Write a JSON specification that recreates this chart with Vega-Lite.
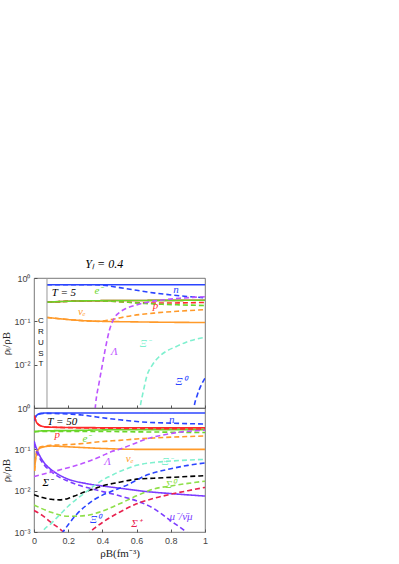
{
"$schema": "https://vega.github.io/schema/vega-lite/v6.json",
"padding": {"left": 0, "top": 257, "right": 5, "bottom": 0},
"title": {"text": "Yₗ = 0.4", "font": "Liberation Serif", "fontStyle": "italic", "fontSize": 12, "fontWeight": "normal", "anchor": "middle", "offset": 3, "color": "#000"},
"config": {
  "view": {"stroke": "#555", "strokeWidth": 0.8},
  "axis": {"grid": false, "domain": false, "labelFont": "Liberation Sans", "labelFontSize": 9, "labelColor": "#444", "tickColor": "#555", "tickSize": -3, "labelPadding": 7, "labelOverlap": false, "minExtent": 0, "titlePadding": 2, "titleFont": "Liberation Serif", "titleFontSize": 11, "titleFontWeight": "normal", "titleColor": "#222"},
  "axisX": {"labelOverlap": false, "labelFlush": false}
},
"datasets": {
"t5": [
{"species":"n","matter":"N","rho":0.076,"frac":0.7},{"species":"n","matter":"N","rho":0.5,"frac":0.7},{"species":"n","matter":"N","rho":1.0,"frac":0.7},
{"species":"p","matter":"N","rho":0.076,"frac":0.277},{"species":"p","matter":"N","rho":0.2,"frac":0.29},{"species":"p","matter":"N","rho":0.3,"frac":0.297},{"species":"p","matter":"N","rho":0.4,"frac":0.3},{"species":"p","matter":"N","rho":0.6,"frac":0.303},{"species":"p","matter":"N","rho":1.0,"frac":0.306},
{"species":"e","matter":"N","rho":0.076,"frac":0.277},{"species":"e","matter":"N","rho":0.2,"frac":0.29},{"species":"e","matter":"N","rho":0.3,"frac":0.297},{"species":"e","matter":"N","rho":0.4,"frac":0.3},{"species":"e","matter":"N","rho":0.6,"frac":0.303},{"species":"e","matter":"N","rho":1.0,"frac":0.306},
{"species":"nu","matter":"N","rho":0.076,"frac":0.123},{"species":"nu","matter":"N","rho":0.2,"frac":0.11},{"species":"nu","matter":"N","rho":0.3,"frac":0.103},{"species":"nu","matter":"N","rho":0.4,"frac":0.1},{"species":"nu","matter":"N","rho":0.6,"frac":0.097},{"species":"nu","matter":"N","rho":0.8,"frac":0.095},{"species":"nu","matter":"N","rho":1.0,"frac":0.094},
{"species":"n","matter":"NY","rho":0.076,"frac":0.7},{"species":"n","matter":"NY","rho":0.35,"frac":0.7},{"species":"n","matter":"NY","rho":0.42,"frac":0.67},{"species":"n","matter":"NY","rho":0.5,"frac":0.6},{"species":"n","matter":"NY","rho":0.6,"frac":0.52},{"species":"n","matter":"NY","rho":0.67,"frac":0.47},{"species":"n","matter":"NY","rho":0.77,"frac":0.42},{"species":"n","matter":"NY","rho":0.88,"frac":0.38},{"species":"n","matter":"NY","rho":1.0,"frac":0.35},
{"species":"p","matter":"NY","rho":0.076,"frac":0.277},{"species":"p","matter":"NY","rho":0.2,"frac":0.29},{"species":"p","matter":"NY","rho":0.36,"frac":0.299},{"species":"p","matter":"NY","rho":0.45,"frac":0.29},{"species":"p","matter":"NY","rho":0.55,"frac":0.275},{"species":"p","matter":"NY","rho":0.65,"frac":0.266},{"species":"p","matter":"NY","rho":0.75,"frac":0.264},{"species":"p","matter":"NY","rho":0.85,"frac":0.266},{"species":"p","matter":"NY","rho":1.0,"frac":0.273},
{"species":"e","matter":"NY","rho":0.076,"frac":0.277},{"species":"e","matter":"NY","rho":0.2,"frac":0.29},{"species":"e","matter":"NY","rho":0.36,"frac":0.299},{"species":"e","matter":"NY","rho":0.45,"frac":0.29},{"species":"e","matter":"NY","rho":0.55,"frac":0.275},{"species":"e","matter":"NY","rho":0.65,"frac":0.258},{"species":"e","matter":"NY","rho":0.75,"frac":0.247},{"species":"e","matter":"NY","rho":0.85,"frac":0.24},{"species":"e","matter":"NY","rho":1.0,"frac":0.232},
{"species":"nu","matter":"NY","rho":0.076,"frac":0.123},{"species":"nu","matter":"NY","rho":0.2,"frac":0.11},{"species":"nu","matter":"NY","rho":0.3,"frac":0.103},{"species":"nu","matter":"NY","rho":0.38,"frac":0.1},{"species":"nu","matter":"NY","rho":0.45,"frac":0.11},{"species":"nu","matter":"NY","rho":0.57,"frac":0.135},{"species":"nu","matter":"NY","rho":0.7,"frac":0.155},{"species":"nu","matter":"NY","rho":0.85,"frac":0.172},{"species":"nu","matter":"NY","rho":1.0,"frac":0.186},
{"species":"Lambda","matter":"NY","rho":0.35,"frac":0.0004},{"species":"Lambda","matter":"NY","rho":0.36,"frac":0.0012},{"species":"Lambda","matter":"NY","rho":0.38,"frac":0.0037},{"species":"Lambda","matter":"NY","rho":0.4,"frac":0.01},{"species":"Lambda","matter":"NY","rho":0.415,"frac":0.021},{"species":"Lambda","matter":"NY","rho":0.44,"frac":0.06},{"species":"Lambda","matter":"NY","rho":0.47,"frac":0.12},{"species":"Lambda","matter":"NY","rho":0.5,"frac":0.16},{"species":"Lambda","matter":"NY","rho":0.54,"frac":0.2},{"species":"Lambda","matter":"NY","rho":0.6,"frac":0.24},{"species":"Lambda","matter":"NY","rho":0.67,"frac":0.28},{"species":"Lambda","matter":"NY","rho":0.75,"frac":0.31},{"species":"Lambda","matter":"NY","rho":0.85,"frac":0.34},{"species":"Lambda","matter":"NY","rho":1.0,"frac":0.37},
{"species":"XiM","matter":"NY","rho":0.61,"frac":0.0005},{"species":"XiM","matter":"NY","rho":0.62,"frac":0.001},{"species":"XiM","matter":"NY","rho":0.64,"frac":0.0025},{"species":"XiM","matter":"NY","rho":0.66,"frac":0.0055},{"species":"XiM","matter":"NY","rho":0.69,"frac":0.0095},{"species":"XiM","matter":"NY","rho":0.73,"frac":0.015},{"species":"XiM","matter":"NY","rho":0.77,"frac":0.02},{"species":"XiM","matter":"NY","rho":0.83,"frac":0.026},{"species":"XiM","matter":"NY","rho":0.89,"frac":0.033},{"species":"XiM","matter":"NY","rho":0.95,"frac":0.039},{"species":"XiM","matter":"NY","rho":1.0,"frac":0.043},
{"species":"Xi0","matter":"NY","rho":0.925,"frac":0.0005},{"species":"Xi0","matter":"NY","rho":0.935,"frac":0.001},{"species":"Xi0","matter":"NY","rho":0.955,"frac":0.002},{"species":"Xi0","matter":"NY","rho":0.975,"frac":0.0032},{"species":"Xi0","matter":"NY","rho":1.0,"frac":0.0049}
],
"t50": [
{"species":"n","matter":"N","rho":0.002,"frac":0.5},{"species":"n","matter":"N","rho":0.01,"frac":0.62},{"species":"n","matter":"N","rho":0.02,"frac":0.69},{"species":"n","matter":"N","rho":0.04,"frac":0.74},{"species":"n","matter":"N","rho":0.08,"frac":0.76},{"species":"n","matter":"N","rho":0.3,"frac":0.76},{"species":"n","matter":"N","rho":1.0,"frac":0.76},
{"species":"p","matter":"N","rho":0.002,"frac":0.65},{"species":"p","matter":"N","rho":0.01,"frac":0.5},{"species":"p","matter":"N","rho":0.02,"frac":0.42},{"species":"p","matter":"N","rho":0.04,"frac":0.37},{"species":"p","matter":"N","rho":0.08,"frac":0.345},{"species":"p","matter":"N","rho":0.3,"frac":0.335},{"species":"p","matter":"N","rho":1.0,"frac":0.33},
{"species":"e","matter":"N","rho":0.002,"frac":0.27},{"species":"e","matter":"N","rho":0.05,"frac":0.28},{"species":"e","matter":"N","rho":0.2,"frac":0.285},{"species":"e","matter":"N","rho":0.5,"frac":0.298},{"species":"e","matter":"N","rho":1.0,"frac":0.3},
{"species":"nu","matter":"N","rho":0.003,"frac":0.03},{"species":"nu","matter":"N","rho":0.01,"frac":0.06},{"species":"nu","matter":"N","rho":0.02,"frac":0.09},{"species":"nu","matter":"N","rho":0.04,"frac":0.11},{"species":"nu","matter":"N","rho":0.1,"frac":0.12},{"species":"nu","matter":"N","rho":0.2,"frac":0.115},{"species":"nu","matter":"N","rho":0.4,"frac":0.105},{"species":"nu","matter":"N","rho":0.6,"frac":0.1},{"species":"nu","matter":"N","rho":1.0,"frac":0.1},
{"species":"mu","matter":"N","rho":0.0,"frac":0.16},{"species":"mu","matter":"N","rho":0.01,"frac":0.12},{"species":"mu","matter":"N","rho":0.03,"frac":0.075},{"species":"mu","matter":"N","rho":0.06,"frac":0.047},{"species":"mu","matter":"N","rho":0.09,"frac":0.035},{"species":"mu","matter":"N","rho":0.14,"frac":0.025},{"species":"mu","matter":"N","rho":0.2,"frac":0.019},{"species":"mu","matter":"N","rho":0.3,"frac":0.015},{"species":"mu","matter":"N","rho":0.4,"frac":0.013},{"species":"mu","matter":"N","rho":0.5,"frac":0.0115},{"species":"mu","matter":"N","rho":0.66,"frac":0.0095},{"species":"mu","matter":"N","rho":0.8,"frac":0.0085},{"species":"mu","matter":"N","rho":1.0,"frac":0.0074},
{"species":"n","matter":"NY","rho":0.002,"frac":0.5},{"species":"n","matter":"NY","rho":0.01,"frac":0.62},{"species":"n","matter":"NY","rho":0.02,"frac":0.69},{"species":"n","matter":"NY","rho":0.04,"frac":0.73},{"species":"n","matter":"NY","rho":0.08,"frac":0.74},{"species":"n","matter":"NY","rho":0.15,"frac":0.73},{"species":"n","matter":"NY","rho":0.22,"frac":0.71},{"species":"n","matter":"NY","rho":0.28,"frac":0.68},{"species":"n","matter":"NY","rho":0.34,"frac":0.63},{"species":"n","matter":"NY","rho":0.4,"frac":0.58},{"species":"n","matter":"NY","rho":0.5,"frac":0.52},{"species":"n","matter":"NY","rho":0.63,"frac":0.46},{"species":"n","matter":"NY","rho":0.8,"frac":0.43},{"species":"n","matter":"NY","rho":1.0,"frac":0.41},
{"species":"p","matter":"NY","rho":0.002,"frac":0.65},{"species":"p","matter":"NY","rho":0.01,"frac":0.5},{"species":"p","matter":"NY","rho":0.02,"frac":0.42},{"species":"p","matter":"NY","rho":0.04,"frac":0.37},{"species":"p","matter":"NY","rho":0.08,"frac":0.345},{"species":"p","matter":"NY","rho":0.3,"frac":0.33},{"species":"p","matter":"NY","rho":0.6,"frac":0.32},{"species":"p","matter":"NY","rho":1.0,"frac":0.31},
{"species":"e","matter":"NY","rho":0.002,"frac":0.265},{"species":"e","matter":"NY","rho":0.05,"frac":0.27},{"species":"e","matter":"NY","rho":0.2,"frac":0.27},{"species":"e","matter":"NY","rho":0.4,"frac":0.27},{"species":"e","matter":"NY","rho":0.6,"frac":0.265},{"species":"e","matter":"NY","rho":0.8,"frac":0.26},{"species":"e","matter":"NY","rho":1.0,"frac":0.255},
{"species":"nu","matter":"NY","rho":0.003,"frac":0.03},{"species":"nu","matter":"NY","rho":0.01,"frac":0.065},{"species":"nu","matter":"NY","rho":0.02,"frac":0.1},{"species":"nu","matter":"NY","rho":0.04,"frac":0.115},{"species":"nu","matter":"NY","rho":0.1,"frac":0.125},{"species":"nu","matter":"NY","rho":0.2,"frac":0.13},{"species":"nu","matter":"NY","rho":0.3,"frac":0.14},{"species":"nu","matter":"NY","rho":0.4,"frac":0.155},{"species":"nu","matter":"NY","rho":0.5,"frac":0.165},{"species":"nu","matter":"NY","rho":0.6,"frac":0.178},{"species":"nu","matter":"NY","rho":0.7,"frac":0.188},{"species":"nu","matter":"NY","rho":0.8,"frac":0.197},{"species":"nu","matter":"NY","rho":0.9,"frac":0.204},{"species":"nu","matter":"NY","rho":1.0,"frac":0.21},
{"species":"mu","matter":"NY","rho":0.0,"frac":0.14},{"species":"mu","matter":"NY","rho":0.01,"frac":0.1},{"species":"mu","matter":"NY","rho":0.03,"frac":0.065},{"species":"mu","matter":"NY","rho":0.06,"frac":0.042},{"species":"mu","matter":"NY","rho":0.1,"frac":0.029},{"species":"mu","matter":"NY","rho":0.15,"frac":0.021},{"species":"mu","matter":"NY","rho":0.2,"frac":0.017},{"species":"mu","matter":"NY","rho":0.25,"frac":0.014},{"species":"mu","matter":"NY","rho":0.3,"frac":0.0122},{"species":"mu","matter":"NY","rho":0.39,"frac":0.0098},{"species":"mu","matter":"NY","rho":0.5,"frac":0.0075},{"species":"mu","matter":"NY","rho":0.63,"frac":0.0051},{"species":"mu","matter":"NY","rho":0.7,"frac":0.0037},{"species":"mu","matter":"NY","rho":0.79,"frac":0.002},{"species":"mu","matter":"NY","rho":0.89,"frac":0.001},{"species":"mu","matter":"NY","rho":1.0,"frac":0.0004},
{"species":"Lambda","matter":"NY","rho":0.0,"frac":0.022},{"species":"Lambda","matter":"NY","rho":0.1,"frac":0.028},{"species":"Lambda","matter":"NY","rho":0.2,"frac":0.036},{"species":"Lambda","matter":"NY","rho":0.3,"frac":0.048},{"species":"Lambda","matter":"NY","rho":0.4,"frac":0.07},{"species":"Lambda","matter":"NY","rho":0.45,"frac":0.087},{"species":"Lambda","matter":"NY","rho":0.5,"frac":0.1},{"species":"Lambda","matter":"NY","rho":0.6,"frac":0.145},{"species":"Lambda","matter":"NY","rho":0.66,"frac":0.18},{"species":"Lambda","matter":"NY","rho":0.75,"frac":0.22},{"species":"Lambda","matter":"NY","rho":0.85,"frac":0.26},{"species":"Lambda","matter":"NY","rho":1.0,"frac":0.29},
{"species":"SigmaM","matter":"NY","rho":0.0,"frac":0.008},{"species":"SigmaM","matter":"NY","rho":0.05,"frac":0.0068},{"species":"SigmaM","matter":"NY","rho":0.1,"frac":0.0062},{"species":"SigmaM","matter":"NY","rho":0.15,"frac":0.006},{"species":"SigmaM","matter":"NY","rho":0.2,"frac":0.0065},{"species":"SigmaM","matter":"NY","rho":0.25,"frac":0.0078},{"species":"SigmaM","matter":"NY","rho":0.3,"frac":0.0095},{"species":"SigmaM","matter":"NY","rho":0.35,"frac":0.011},{"species":"SigmaM","matter":"NY","rho":0.4,"frac":0.013},{"species":"SigmaM","matter":"NY","rho":0.5,"frac":0.016},{"species":"SigmaM","matter":"NY","rho":0.6,"frac":0.019},{"species":"SigmaM","matter":"NY","rho":0.7,"frac":0.02},{"species":"SigmaM","matter":"NY","rho":0.8,"frac":0.021},{"species":"SigmaM","matter":"NY","rho":0.9,"frac":0.022},{"species":"SigmaM","matter":"NY","rho":1.0,"frac":0.023},
{"species":"Sigma0","matter":"NY","rho":0.0,"frac":0.0045},{"species":"Sigma0","matter":"NY","rho":0.1,"frac":0.003},{"species":"Sigma0","matter":"NY","rho":0.2,"frac":0.0024},{"species":"Sigma0","matter":"NY","rho":0.3,"frac":0.0025},{"species":"Sigma0","matter":"NY","rho":0.4,"frac":0.0032},{"species":"Sigma0","matter":"NY","rho":0.5,"frac":0.0048},{"species":"Sigma0","matter":"NY","rho":0.6,"frac":0.0075},{"species":"Sigma0","matter":"NY","rho":0.7,"frac":0.011},{"species":"Sigma0","matter":"NY","rho":0.8,"frac":0.013},{"species":"Sigma0","matter":"NY","rho":0.9,"frac":0.015},{"species":"Sigma0","matter":"NY","rho":1.0,"frac":0.017},
{"species":"SigmaP","matter":"NY","rho":0.0,"frac":0.0033},{"species":"SigmaP","matter":"NY","rho":0.05,"frac":0.0025},{"species":"SigmaP","matter":"NY","rho":0.1,"frac":0.0017},{"species":"SigmaP","matter":"NY","rho":0.15,"frac":0.0012},{"species":"SigmaP","matter":"NY","rho":0.2,"frac":0.0008},{"species":"SigmaP","matter":"NY","rho":0.25,"frac":0.0006},{"species":"SigmaP","matter":"NY","rho":0.3,"frac":0.0008},{"species":"SigmaP","matter":"NY","rho":0.35,"frac":0.0012},{"species":"SigmaP","matter":"NY","rho":0.4,"frac":0.0017},{"species":"SigmaP","matter":"NY","rho":0.5,"frac":0.003},{"species":"SigmaP","matter":"NY","rho":0.6,"frac":0.0048},{"species":"SigmaP","matter":"NY","rho":0.7,"frac":0.0065},{"species":"SigmaP","matter":"NY","rho":0.8,"frac":0.0082},{"species":"SigmaP","matter":"NY","rho":0.9,"frac":0.01},{"species":"SigmaP","matter":"NY","rho":1.0,"frac":0.012},
{"species":"XiM","matter":"NY","rho":0.02,"frac":0.0005},{"species":"XiM","matter":"NY","rho":0.05,"frac":0.001},{"species":"XiM","matter":"NY","rho":0.1,"frac":0.0016},{"species":"XiM","matter":"NY","rho":0.15,"frac":0.0026},{"species":"XiM","matter":"NY","rho":0.2,"frac":0.0042},{"species":"XiM","matter":"NY","rho":0.25,"frac":0.0063},{"species":"XiM","matter":"NY","rho":0.3,"frac":0.009},{"species":"XiM","matter":"NY","rho":0.35,"frac":0.013},{"species":"XiM","matter":"NY","rho":0.4,"frac":0.018},{"species":"XiM","matter":"NY","rho":0.45,"frac":0.023},{"species":"XiM","matter":"NY","rho":0.5,"frac":0.029},{"species":"XiM","matter":"NY","rho":0.55,"frac":0.035},{"species":"XiM","matter":"NY","rho":0.6,"frac":0.041},{"species":"XiM","matter":"NY","rho":0.7,"frac":0.048},{"species":"XiM","matter":"NY","rho":0.8,"frac":0.052},{"species":"XiM","matter":"NY","rho":0.9,"frac":0.055},{"species":"XiM","matter":"NY","rho":1.0,"frac":0.057},
{"species":"Xi0","matter":"NY","rho":0.14,"frac":0.0006},{"species":"Xi0","matter":"NY","rho":0.17,"frac":0.001},{"species":"Xi0","matter":"NY","rho":0.2,"frac":0.0015},{"species":"Xi0","matter":"NY","rho":0.25,"frac":0.0027},{"species":"Xi0","matter":"NY","rho":0.3,"frac":0.0042},{"species":"Xi0","matter":"NY","rho":0.35,"frac":0.006},{"species":"Xi0","matter":"NY","rho":0.4,"frac":0.0078},{"species":"Xi0","matter":"NY","rho":0.45,"frac":0.0095},{"species":"Xi0","matter":"NY","rho":0.5,"frac":0.0115},{"species":"Xi0","matter":"NY","rho":0.55,"frac":0.014},{"species":"Xi0","matter":"NY","rho":0.6,"frac":0.018},{"species":"Xi0","matter":"NY","rho":0.65,"frac":0.023},{"species":"Xi0","matter":"NY","rho":0.7,"frac":0.027},{"species":"Xi0","matter":"NY","rho":0.8,"frac":0.034},{"species":"Xi0","matter":"NY","rho":0.9,"frac":0.041},{"species":"Xi0","matter":"NY","rho":1.0,"frac":0.047}
],
"crust": [{"rho": 0.076}],
"crustlab": [{"label":"C","rho":0.04,"frac":0.104},{"label":"R","rho":0.04,"frac":0.058},{"label":"U","rho":0.04,"frac":0.032},{"label":"S","rho":0.04,"frac":0.018},{"label":"T","rho":0.04,"frac":0.0102}],
"t5lab": [
{"label":"T = 5","species":"other","rho":0.175,"frac":0.46},
{"label":"e⁻","species":"e","rho":0.38,"frac":0.5},
{"label":"n","species":"n","rho":0.83,"frac":0.53},
{"label":"p","species":"p","rho":0.71,"frac":0.22},
{"label":"νₑ","species":"nu","rho":0.28,"frac":0.16},
{"label":"Λ","species":"Lambda","rho":0.47,"frac":0.0195},
{"label":"Ξ⁻","species":"XiM","rho":0.65,"frac":0.03},
{"label":"Ξ⁰","species":"Xi0","rho":0.86,"frac":0.004}
],
"t50lab": [
{"label":"T = 50","species":"other","rho":0.165,"frac":0.46},
{"label":"n","species":"n","rho":0.805,"frac":0.5},
{"label":"p","species":"p","rho":0.136,"frac":0.22},
{"label":"e⁻","species":"e","rho":0.31,"frac":0.18},
{"label":"Λ","species":"Lambda","rho":0.43,"frac":0.05},
{"label":"νₑ","species":"nu","rho":0.56,"frac":0.06},
{"label":"Ξ⁻","species":"XiM","rho":0.78,"frac":0.05},
{"label":"Σ⁻","species":"SigmaM","rho":0.08,"frac":0.015},
{"label":"Σ⁰","species":"Sigma0","rho":0.8,"frac":0.014},
{"label":"Ξ⁰","species":"Xi0","rho":0.36,"frac":0.0019},
{"label":"Σ⁺","species":"SigmaP","rho":0.6,"frac":0.0016},
{"label":"μ⁻/ν̄μ","species":"mu","rho":0.86,"frac":0.0023}
]
},
"spacing": 0,
"bounds": "flush",
"vconcat": [
{
"width": 171, "height": 130,
"encoding": {
  "x": {"field": "rho", "type": "quantitative", "scale": {"domain": [0, 1]}, "axis": {"title": null, "labels": false, "labelPadding": 0, "values": [0, 0.2, 0.4, 0.6, 0.8, 1]}},
  "y": {"field": "frac", "type": "quantitative", "scale": {"type": "log", "domain": [0.001, 1]}, "axis": {"title": "ρₗ/ρB", "values": [1, 0.1, 0.01], "labelExpr": "datum.value >= 0.99 ? '10⁰' : datum.value >= 0.099 ? '10⁻¹' : datum.value >= 0.0099 ? '10⁻²' : '10⁻³'"}}
},
"layer": [
{"data": {"name": "t5"}, "mark": {"type": "line", "clip": true, "strokeWidth": 1.6, "interpolate": "monotone"},
 "encoding": {
  "color": {"field": "species", "type": "nominal", "legend": null, "scale": {"domain": ["n","p","e","nu","mu","Lambda","SigmaM","Sigma0","SigmaP","XiM","Xi0","other"], "range": ["#2a44ff","#ff2a2a","#6ad62a","#ff9a2a","#7b3cff","#bd55ff","#000000","#8fdf4a","#e8224f","#7ff0cf","#2a44ff","#000000"]}},
  "strokeDash": {"field": "matter", "type": "nominal", "legend": null, "scale": {"domain": ["N", "NY"], "range": [[1, 0], [5, 3]]}}
 }},
{"data": {"name": "crust"}, "mark": {"type": "rule", "color": "#999", "strokeWidth": 1},
 "encoding": {"y": null}},
{"data": {"name": "crustlab"}, "mark": {"type": "text", "font": "Liberation Sans", "fontSize": 8, "color": "#111"},
 "encoding": {"text": {"field": "label"}}},
{"data": {"name": "t5lab"}, "mark": {"type": "text", "font": "Liberation Serif", "fontStyle": "italic", "fontSize": 11},
 "encoding": {"text": {"field": "label"}, "color": {"field": "species", "type": "nominal", "legend": null}}}
]
},
{
"width": 171, "height": 124,
"encoding": {
  "x": {"field": "rho", "type": "quantitative", "scale": {"domain": [0, 1]}, "axis": {"title": "ρB(fm⁻³)", "values": [0, 0.2, 0.4, 0.6, 0.8, 1], "format": "~g", "labelOverlap": false, "labelFlush": false}},
  "y": {"field": "frac", "type": "quantitative", "scale": {"type": "log", "domain": [0.001, 1]}, "axis": {"title": "ρₗ/ρB", "values": [1, 0.1, 0.01, 0.001], "labelExpr": "datum.value >= 0.99 ? '10⁰' : datum.value >= 0.099 ? '10⁻¹' : datum.value >= 0.0099 ? '10⁻²' : '10⁻³'"}}
},
"layer": [
{"data": {"name": "t50"}, "mark": {"type": "line", "clip": true, "strokeWidth": 1.6, "interpolate": "monotone"},
 "encoding": {
  "color": {"field": "species", "type": "nominal", "legend": null, "scale": {"domain": ["n","p","e","nu","mu","Lambda","SigmaM","Sigma0","SigmaP","XiM","Xi0","other"], "range": ["#2a44ff","#ff2a2a","#6ad62a","#ff9a2a","#7b3cff","#bd55ff","#000000","#8fdf4a","#e8224f","#7ff0cf","#2a44ff","#000000"]}},
  "strokeDash": {"field": "matter", "type": "nominal", "legend": null, "scale": {"domain": ["N", "NY"], "range": [[1, 0], [5, 3]]}}
 }},
{"data": {"name": "t50lab"}, "mark": {"type": "text", "font": "Liberation Serif", "fontStyle": "italic", "fontSize": 11},
 "encoding": {"text": {"field": "label"}, "color": {"field": "species", "type": "nominal", "legend": null}}}
]
}
]
}
